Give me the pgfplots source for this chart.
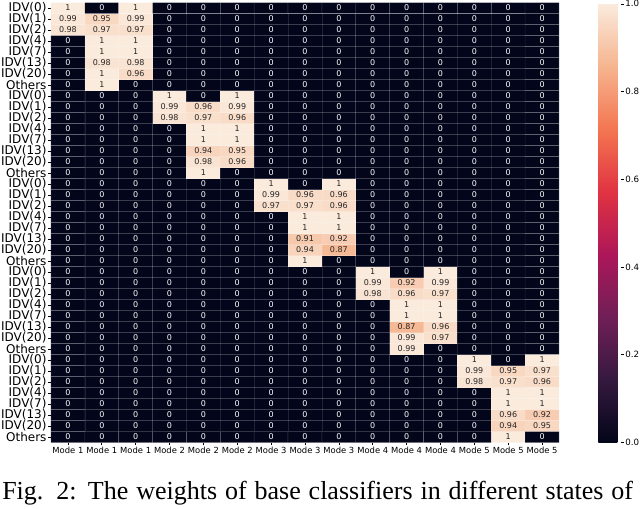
\documentclass[border=0pt]{standalone}
\usepackage{fontspec}
\setmainfont{DejaVu Sans}
\newfontfamily\capfont{Liberation Serif}
\usepackage{pgfplots}
\pgfplotsset{compat=1.18}

% seaborn "rocket"
\pgfplotsset{colormap={rocket}{rgb255=(3,5,26) rgb255=(53,25,62) rgb255=(112,31,87) rgb255=(173,23,89) rgb255=(225,51,66) rgb255=(243,118,81) rgb255=(246,180,143) rgb255=(250,235,221)}}
\definecolor{annodark}{HTML}{262626}

\begin{document}
\begin{tikzpicture}
\path[use as bounding box] (0,0) rectangle (480pt,-381pt);
\begin{axis}[
  at={(38.25pt,-1.875pt)}, anchor=north west,
  scale only axis, width=381pt, height=330pt,
  xmin=-0.5, xmax=14.5, ymin=-0.5, ymax=39.5,
  axis line style={draw=none},
  tick pos=left, tick align=outside, major tick length=2.2pt,
  tick style={black, line width=0.5pt},
  xtick={0,...,14},
  xticklabels={Mode 1,Mode 1,Mode 1,Mode 2,Mode 2,Mode 2,Mode 3,Mode 3,Mode 3,Mode 4,Mode 4,Mode 4,Mode 5,Mode 5,Mode 5},
  ytick={0,...,39},
  yticklabels={Others,IDV(20),IDV(13),IDV(7),IDV(4),IDV(2),IDV(1),IDV(0),
    Others,IDV(20),IDV(13),IDV(7),IDV(4),IDV(2),IDV(1),IDV(0),
    Others,IDV(20),IDV(13),IDV(7),IDV(4),IDV(2),IDV(1),IDV(0),
    Others,IDV(20),IDV(13),IDV(7),IDV(4),IDV(2),IDV(1),IDV(0),
    Others,IDV(20),IDV(13),IDV(7),IDV(4),IDV(2),IDV(1),IDV(0)},
  xticklabel style={font=\fontsize{6.3}{6.3}\selectfont, inner sep=1pt},
  yticklabel style={font=\fontsize{9}{9}\selectfont, inner sep=1pt},
  colormap name=rocket, point meta min=0, point meta max=1,
  /pgf/number format/assume math mode=true,
  colorbar,
  colorbar style={
    at={(parent axis.north east)}, anchor=north west,
    xshift=21pt, yshift=-1pt,
    scale only axis, width=17pt, height=329pt,
    axis line style={draw=none},
    ytick={0,0.2,0.4,0.6,0.8,1},
    ytick pos=right, yticklabel pos=right,
    tick align=outside, major tick length=2pt,
    ytick style={black, line width=0.5pt},
    yticklabel style={font=\fontsize{6.5}{6.5}\selectfont, inner sep=1pt,
      /pgf/number format/.cd, fixed, fixed zerofill, precision=1, assume math mode=true},
  },
]
\addplot[matrix plot*, mesh/cols=15, point meta=explicit,
  draw=white, draw opacity=0.12, line width=0.5pt,
  nodes near coords={\ifdim\pgfplotspointmetatransformed pt<500pt\color{white}\else\color{annodark}\fi\pgfmathprintnumber{\pgfplotspointmeta}},
  nodes near coords align={anchor=center},
  every node near coord/.append style={font=\fontsize{6}{6}\selectfont, inner sep=0pt},
] coordinates {
(0,39)[1] (1,39)[0] (2,39)[1] (3,39)[0] (4,39)[0] (5,39)[0] (6,39)[0] (7,39)[0] (8,39)[0] (9,39)[0] (10,39)[0] (11,39)[0] (12,39)[0] (13,39)[0] (14,39)[0]
(0,38)[0.99] (1,38)[0.95] (2,38)[0.99] (3,38)[0] (4,38)[0] (5,38)[0] (6,38)[0] (7,38)[0] (8,38)[0] (9,38)[0] (10,38)[0] (11,38)[0] (12,38)[0] (13,38)[0] (14,38)[0]
(0,37)[0.98] (1,37)[0.97] (2,37)[0.97] (3,37)[0] (4,37)[0] (5,37)[0] (6,37)[0] (7,37)[0] (8,37)[0] (9,37)[0] (10,37)[0] (11,37)[0] (12,37)[0] (13,37)[0] (14,37)[0]
(0,36)[0] (1,36)[1] (2,36)[1] (3,36)[0] (4,36)[0] (5,36)[0] (6,36)[0] (7,36)[0] (8,36)[0] (9,36)[0] (10,36)[0] (11,36)[0] (12,36)[0] (13,36)[0] (14,36)[0]
(0,35)[0] (1,35)[1] (2,35)[1] (3,35)[0] (4,35)[0] (5,35)[0] (6,35)[0] (7,35)[0] (8,35)[0] (9,35)[0] (10,35)[0] (11,35)[0] (12,35)[0] (13,35)[0] (14,35)[0]
(0,34)[0] (1,34)[0.98] (2,34)[0.98] (3,34)[0] (4,34)[0] (5,34)[0] (6,34)[0] (7,34)[0] (8,34)[0] (9,34)[0] (10,34)[0] (11,34)[0] (12,34)[0] (13,34)[0] (14,34)[0]
(0,33)[0] (1,33)[1] (2,33)[0.96] (3,33)[0] (4,33)[0] (5,33)[0] (6,33)[0] (7,33)[0] (8,33)[0] (9,33)[0] (10,33)[0] (11,33)[0] (12,33)[0] (13,33)[0] (14,33)[0]
(0,32)[0] (1,32)[1] (2,32)[0] (3,32)[0] (4,32)[0] (5,32)[0] (6,32)[0] (7,32)[0] (8,32)[0] (9,32)[0] (10,32)[0] (11,32)[0] (12,32)[0] (13,32)[0] (14,32)[0]
(0,31)[0] (1,31)[0] (2,31)[0] (3,31)[1] (4,31)[0] (5,31)[1] (6,31)[0] (7,31)[0] (8,31)[0] (9,31)[0] (10,31)[0] (11,31)[0] (12,31)[0] (13,31)[0] (14,31)[0]
(0,30)[0] (1,30)[0] (2,30)[0] (3,30)[0.99] (4,30)[0.96] (5,30)[0.99] (6,30)[0] (7,30)[0] (8,30)[0] (9,30)[0] (10,30)[0] (11,30)[0] (12,30)[0] (13,30)[0] (14,30)[0]
(0,29)[0] (1,29)[0] (2,29)[0] (3,29)[0.98] (4,29)[0.97] (5,29)[0.96] (6,29)[0] (7,29)[0] (8,29)[0] (9,29)[0] (10,29)[0] (11,29)[0] (12,29)[0] (13,29)[0] (14,29)[0]
(0,28)[0] (1,28)[0] (2,28)[0] (3,28)[0] (4,28)[1] (5,28)[1] (6,28)[0] (7,28)[0] (8,28)[0] (9,28)[0] (10,28)[0] (11,28)[0] (12,28)[0] (13,28)[0] (14,28)[0]
(0,27)[0] (1,27)[0] (2,27)[0] (3,27)[0] (4,27)[1] (5,27)[1] (6,27)[0] (7,27)[0] (8,27)[0] (9,27)[0] (10,27)[0] (11,27)[0] (12,27)[0] (13,27)[0] (14,27)[0]
(0,26)[0] (1,26)[0] (2,26)[0] (3,26)[0] (4,26)[0.94] (5,26)[0.95] (6,26)[0] (7,26)[0] (8,26)[0] (9,26)[0] (10,26)[0] (11,26)[0] (12,26)[0] (13,26)[0] (14,26)[0]
(0,25)[0] (1,25)[0] (2,25)[0] (3,25)[0] (4,25)[0.98] (5,25)[0.96] (6,25)[0] (7,25)[0] (8,25)[0] (9,25)[0] (10,25)[0] (11,25)[0] (12,25)[0] (13,25)[0] (14,25)[0]
(0,24)[0] (1,24)[0] (2,24)[0] (3,24)[0] (4,24)[1] (5,24)[0] (6,24)[0] (7,24)[0] (8,24)[0] (9,24)[0] (10,24)[0] (11,24)[0] (12,24)[0] (13,24)[0] (14,24)[0]
(0,23)[0] (1,23)[0] (2,23)[0] (3,23)[0] (4,23)[0] (5,23)[0] (6,23)[1] (7,23)[0] (8,23)[1] (9,23)[0] (10,23)[0] (11,23)[0] (12,23)[0] (13,23)[0] (14,23)[0]
(0,22)[0] (1,22)[0] (2,22)[0] (3,22)[0] (4,22)[0] (5,22)[0] (6,22)[0.99] (7,22)[0.96] (8,22)[0.96] (9,22)[0] (10,22)[0] (11,22)[0] (12,22)[0] (13,22)[0] (14,22)[0]
(0,21)[0] (1,21)[0] (2,21)[0] (3,21)[0] (4,21)[0] (5,21)[0] (6,21)[0.97] (7,21)[0.97] (8,21)[0.96] (9,21)[0] (10,21)[0] (11,21)[0] (12,21)[0] (13,21)[0] (14,21)[0]
(0,20)[0] (1,20)[0] (2,20)[0] (3,20)[0] (4,20)[0] (5,20)[0] (6,20)[0] (7,20)[1] (8,20)[1] (9,20)[0] (10,20)[0] (11,20)[0] (12,20)[0] (13,20)[0] (14,20)[0]
(0,19)[0] (1,19)[0] (2,19)[0] (3,19)[0] (4,19)[0] (5,19)[0] (6,19)[0] (7,19)[1] (8,19)[1] (9,19)[0] (10,19)[0] (11,19)[0] (12,19)[0] (13,19)[0] (14,19)[0]
(0,18)[0] (1,18)[0] (2,18)[0] (3,18)[0] (4,18)[0] (5,18)[0] (6,18)[0] (7,18)[0.91] (8,18)[0.92] (9,18)[0] (10,18)[0] (11,18)[0] (12,18)[0] (13,18)[0] (14,18)[0]
(0,17)[0] (1,17)[0] (2,17)[0] (3,17)[0] (4,17)[0] (5,17)[0] (6,17)[0] (7,17)[0.94] (8,17)[0.87] (9,17)[0] (10,17)[0] (11,17)[0] (12,17)[0] (13,17)[0] (14,17)[0]
(0,16)[0] (1,16)[0] (2,16)[0] (3,16)[0] (4,16)[0] (5,16)[0] (6,16)[0] (7,16)[1] (8,16)[0] (9,16)[0] (10,16)[0] (11,16)[0] (12,16)[0] (13,16)[0] (14,16)[0]
(0,15)[0] (1,15)[0] (2,15)[0] (3,15)[0] (4,15)[0] (5,15)[0] (6,15)[0] (7,15)[0] (8,15)[0] (9,15)[1] (10,15)[0] (11,15)[1] (12,15)[0] (13,15)[0] (14,15)[0]
(0,14)[0] (1,14)[0] (2,14)[0] (3,14)[0] (4,14)[0] (5,14)[0] (6,14)[0] (7,14)[0] (8,14)[0] (9,14)[0.99] (10,14)[0.92] (11,14)[0.99] (12,14)[0] (13,14)[0] (14,14)[0]
(0,13)[0] (1,13)[0] (2,13)[0] (3,13)[0] (4,13)[0] (5,13)[0] (6,13)[0] (7,13)[0] (8,13)[0] (9,13)[0.98] (10,13)[0.96] (11,13)[0.97] (12,13)[0] (13,13)[0] (14,13)[0]
(0,12)[0] (1,12)[0] (2,12)[0] (3,12)[0] (4,12)[0] (5,12)[0] (6,12)[0] (7,12)[0] (8,12)[0] (9,12)[0] (10,12)[1] (11,12)[1] (12,12)[0] (13,12)[0] (14,12)[0]
(0,11)[0] (1,11)[0] (2,11)[0] (3,11)[0] (4,11)[0] (5,11)[0] (6,11)[0] (7,11)[0] (8,11)[0] (9,11)[0] (10,11)[1] (11,11)[1] (12,11)[0] (13,11)[0] (14,11)[0]
(0,10)[0] (1,10)[0] (2,10)[0] (3,10)[0] (4,10)[0] (5,10)[0] (6,10)[0] (7,10)[0] (8,10)[0] (9,10)[0] (10,10)[0.87] (11,10)[0.96] (12,10)[0] (13,10)[0] (14,10)[0]
(0,9)[0] (1,9)[0] (2,9)[0] (3,9)[0] (4,9)[0] (5,9)[0] (6,9)[0] (7,9)[0] (8,9)[0] (9,9)[0] (10,9)[0.99] (11,9)[0.97] (12,9)[0] (13,9)[0] (14,9)[0]
(0,8)[0] (1,8)[0] (2,8)[0] (3,8)[0] (4,8)[0] (5,8)[0] (6,8)[0] (7,8)[0] (8,8)[0] (9,8)[0] (10,8)[0.99] (11,8)[0] (12,8)[0] (13,8)[0] (14,8)[0]
(0,7)[0] (1,7)[0] (2,7)[0] (3,7)[0] (4,7)[0] (5,7)[0] (6,7)[0] (7,7)[0] (8,7)[0] (9,7)[0] (10,7)[0] (11,7)[0] (12,7)[1] (13,7)[0] (14,7)[1]
(0,6)[0] (1,6)[0] (2,6)[0] (3,6)[0] (4,6)[0] (5,6)[0] (6,6)[0] (7,6)[0] (8,6)[0] (9,6)[0] (10,6)[0] (11,6)[0] (12,6)[0.99] (13,6)[0.95] (14,6)[0.97]
(0,5)[0] (1,5)[0] (2,5)[0] (3,5)[0] (4,5)[0] (5,5)[0] (6,5)[0] (7,5)[0] (8,5)[0] (9,5)[0] (10,5)[0] (11,5)[0] (12,5)[0.98] (13,5)[0.97] (14,5)[0.96]
(0,4)[0] (1,4)[0] (2,4)[0] (3,4)[0] (4,4)[0] (5,4)[0] (6,4)[0] (7,4)[0] (8,4)[0] (9,4)[0] (10,4)[0] (11,4)[0] (12,4)[0] (13,4)[1] (14,4)[1]
(0,3)[0] (1,3)[0] (2,3)[0] (3,3)[0] (4,3)[0] (5,3)[0] (6,3)[0] (7,3)[0] (8,3)[0] (9,3)[0] (10,3)[0] (11,3)[0] (12,3)[0] (13,3)[1] (14,3)[1]
(0,2)[0] (1,2)[0] (2,2)[0] (3,2)[0] (4,2)[0] (5,2)[0] (6,2)[0] (7,2)[0] (8,2)[0] (9,2)[0] (10,2)[0] (11,2)[0] (12,2)[0] (13,2)[0.96] (14,2)[0.92]
(0,1)[0] (1,1)[0] (2,1)[0] (3,1)[0] (4,1)[0] (5,1)[0] (6,1)[0] (7,1)[0] (8,1)[0] (9,1)[0] (10,1)[0] (11,1)[0] (12,1)[0] (13,1)[0.94] (14,1)[0.95]
(0,0)[0] (1,0)[0] (2,0)[0] (3,0)[0] (4,0)[0] (5,0)[0] (6,0)[0] (7,0)[0] (8,0)[0] (9,0)[0] (10,0)[0] (11,0)[0] (12,0)[0] (13,0)[1] (14,0)[0]
};
\end{axis}
\node[anchor=base west, inner sep=0pt] at (1.5pt,-374.25pt)
  {\capfont\fontsize{19.5}{19.5}\selectfont\makebox[473pt][s]{Fig. 2: The weights of base classifiers in different states of}};
\end{tikzpicture}
\end{document}
